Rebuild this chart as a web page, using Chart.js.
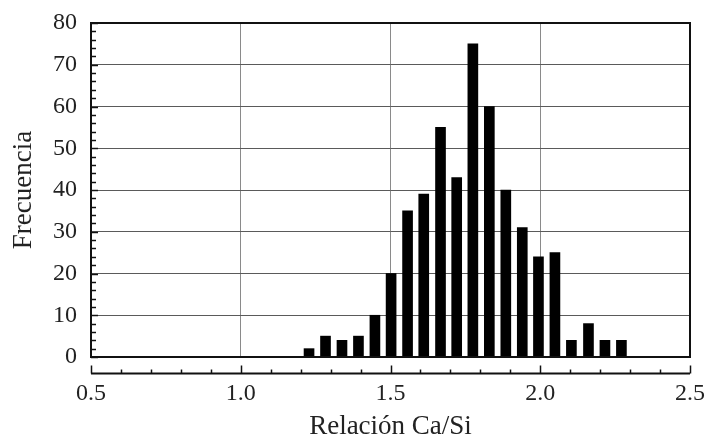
<!DOCTYPE html>
<html lang="es">
<head>
    <meta charset="UTF-8">
    <title>Relación Ca/Si</title>
    <script src="https://cdn.jsdelivr.net/npm/chart.js"></script>
    <style>
        body { margin: 0; background: #fff; }
        #wrap { width: 705px; height: 439px; }
    </style>
</head>
<body>
    <div id="wrap"><canvas id="histo"></canvas></div>

    <script>
        // bar centres (Ca/Si) and counts
        const ratios = [1.228, 1.283, 1.338, 1.393, 1.448, 1.502, 1.557, 1.611, 1.667, 1.721,
                        1.775, 1.830, 1.885, 1.940, 1.994, 2.049, 2.104, 2.161, 2.216, 2.271];
        const counts = [2, 5, 4, 5, 10, 20, 35, 39, 55, 43,
                        75, 60, 40, 31, 24, 25, 4, 8, 4, 4];
        const xMin = 0.5, xMax = 2.5, xLabelStep = 0.5;
        const yMin = 0, yMax = 80, yLabelStep = 10;

        const serif = "'Liberation Serif', 'DejaVu Serif', serif";
        const ink = '#222';

        const isMultiple = (v, step) => Math.abs(v / step - Math.round(v / step)) < 1e-6;

        // frame, inner y ticks and the detached x axis line
        const frame = {
            id: 'frame',
            afterDraw(chart) {
                const { ctx, chartArea: a, scales } = chart;
                ctx.save();
                ctx.strokeStyle = '#111';

                // y minor ticks pointing inwards
                ctx.lineWidth = 1.5;
                scales.y.ticks.forEach(t => {
                    const y = Math.round(scales.y.getPixelForValue(t.value)) + 0.5;
                    const len = isMultiple(t.value, yLabelStep) ? 7 : 5;
                    ctx.beginPath();
                    ctx.moveTo(a.left, y);
                    ctx.lineTo(a.left + len, y);
                    ctx.stroke();
                });

                // plot box
                ctx.lineWidth = 2;
                ctx.strokeRect(a.left, a.top, a.right - a.left, a.bottom - a.top);

                // x axis drawn below the box
                const axisY = a.bottom + 16.5;
                ctx.lineWidth = 2;
                ctx.beginPath();
                ctx.moveTo(a.left, axisY);
                ctx.lineTo(a.right, axisY);
                ctx.stroke();
                ctx.lineWidth = 1.5;
                scales.x.ticks.forEach(t => {
                    const x = Math.round(scales.x.getPixelForValue(t.value)) + 0.5;
                    const len = isMultiple(t.value, xLabelStep) ? 8 : 4;
                    ctx.beginPath();
                    ctx.moveTo(x, axisY);
                    ctx.lineTo(x, axisY - len);
                    ctx.stroke();
                });
                ctx.restore();
            }
        };

        const config = {
            type: 'bar',
            data: {
                datasets: [{
                    label: 'Frecuencia',
                    data: ratios.map((r, i) => ({ x: r, y: counts[i] })),
                    backgroundColor: '#000',
                    borderWidth: 0,
                    barThickness: 10
                }]
            },
            options: {
                responsive: true,
                maintainAspectRatio: false,
                animation: false,
                layout: { padding: { top: 23, right: 0, left: 0, bottom: 0 } },
                plugins: {
                    legend: { display: false },
                    tooltip: { enabled: false }
                },
                scales: {
                    x: {
                        type: 'linear',
                        min: xMin,
                        max: xMax,
                        offset: false,
                        afterFit: s => { s.height = 82; s.paddingLeft = 0; s.paddingRight = 15; },
                        afterBuildTicks: s => {
                            s.ticks = [];
                            for (let k = 0; k <= 20; k++) s.ticks.push({ value: Math.round((xMin + k * 0.1) * 10) / 10 });
                        },
                        grid: {
                            offset: false,
                            drawTicks: false,
                            color: c => (c.tick && [1.0, 1.5, 2.0].some(v => Math.abs(c.tick.value - v) < 1e-6)) ? '#8a8a8a' : 'rgba(0,0,0,0)',
                            lineWidth: 1
                        },
                        border: { display: false },
                        ticks: {
                            autoSkip: false,
                            maxRotation: 0,
                            padding: 22,
                            color: ink,
                            font: { family: serif, size: 24 },
                            callback: v => isMultiple(v, xLabelStep) ? v.toFixed(1) : ''
                        },
                        title: {
                            display: true,
                            text: 'Relación Ca/Si',
                            color: ink,
                            font: { family: serif, size: 27, lineHeight: 0.9 },
                            padding: { top: 0, bottom: 0 }
                        }
                    },
                    y: {
                        min: yMin,
                        max: yMax,
                        afterFit: s => { s.width = 91; s.paddingTop = 0; s.paddingBottom = 0; },
                        grid: {
                            drawTicks: false,
                            color: c => (c.tick && c.tick.value % yLabelStep === 0 && c.tick.value > yMin && c.tick.value < yMax) ? '#5a5a5a' : 'rgba(0,0,0,0)',
                            lineWidth: 1
                        },
                        border: { display: false },
                        ticks: {
                            stepSize: 2,
                            autoSkip: false,
                            padding: 14,
                            color: ink,
                            font: { family: serif, size: 24 },
                            callback: v => v % yLabelStep === 0 ? String(v) : ''
                        },
                        title: {
                            display: true,
                            text: 'Frecuencia',
                            color: ink,
                            font: { family: serif, size: 27 },
                            padding: { top: 8, bottom: 0 }
                        }
                    }
                }
            },
            plugins: [frame]
        };

        new Chart(document.getElementById('histo'), config);
    </script>
</body>
</html>
